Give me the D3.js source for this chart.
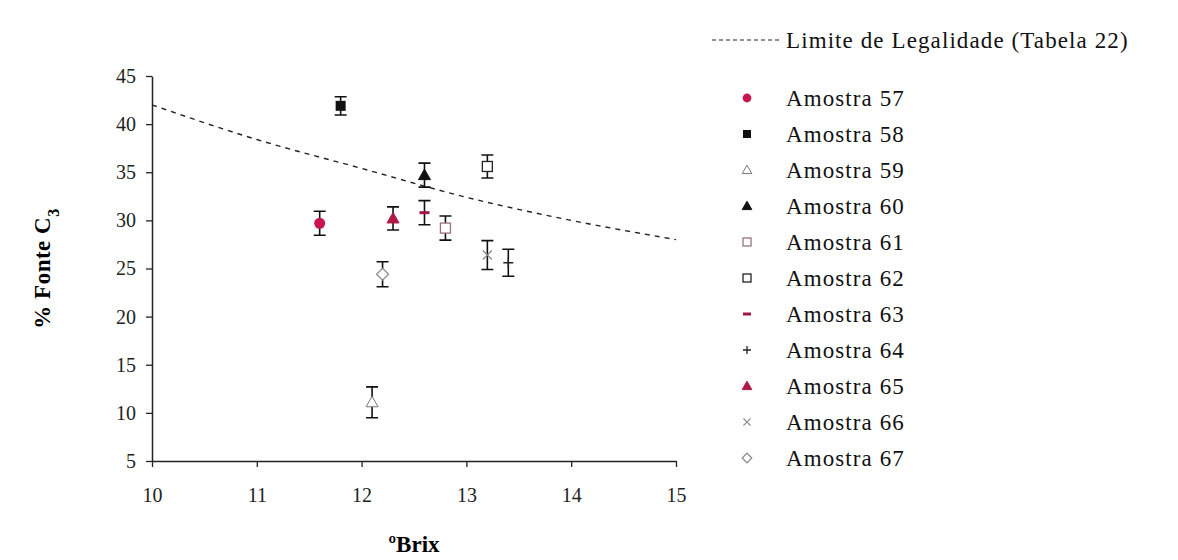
<!DOCTYPE html>
<html>
<head>
<meta charset="utf-8">
<script src="https://cdnjs.cloudflare.com/ajax/libs/d3/7.8.5/d3.min.js"></script>
<style>
  body { margin: 0; background: #fff; }
  svg { font-family: "Liberation Serif", "Times New Roman", serif; }
</style>
</head>
<body>
<div id="chart"></div>
<script>
// data
var samples = ['Amostra 57','Amostra 58','Amostra 59','Amostra 60','Amostra 61','Amostra 62','Amostra 63','Amostra 64','Amostra 65','Amostra 66','Amostra 67'];
var brix    = [11.6, 11.8, 12.1, 12.6, 12.8, 13.2, 12.6, 13.4, 12.3, 13.2, 12.2];
var fonteC3 = [29.7, 41.9, 11.1, 34.7, 29.2, 35.6, 30.8, 25.6, 30.2, 26.4, 24.4];
var erro    = [1.25, 0.95, 1.6, 1.25, 1.25, 1.2, 1.25, 1.4, 1.2, 1.5, 1.3];
var shapes  = ['circle','square','triangleOpen','triangle','squareOpen','squareOpen','dash','plus','triangle','cross','diamond'];
var colors  = ['#c8164c','#111','#777','#111','#9a7080','#222','#a01840','#222','#b01845','#888','#888'];

var limiteX = [10, 11, 12, 13, 14, 15];
var limiteY = [42.0, 38.4, 35.4, 32.4, 30.0, 28.0];

var xTicks = [10, 11, 12, 13, 14, 15];
var yTicks = [5, 10, 15, 20, 25, 30, 35, 40, 45];

var width = 1178, height = 560;

var svg = d3.select('#chart').append('svg')
    .attr('width', width)
    .attr('height', height);

var x = d3.scaleLinear().domain([10, 15]).range([152, 676]);
var y = d3.scaleLinear().domain([5, 45]).range([461, 76]);

// axes
var xAxis = svg.append('g')
    .attr('transform', 'translate(0,' + y(5) + ')')
    .call(d3.axisBottom(x).tickValues(xTicks).tickFormat(d3.format('d'))
        .tickSize(6).tickPadding(21).tickSizeOuter(0));
var yAxis = svg.append('g')
    .attr('transform', 'translate(' + x(10) + ',0)')
    .call(d3.axisLeft(y).tickValues(yTicks).tickFormat(d3.format('d'))
        .tickSize(6).tickPadding(10).tickSizeOuter(0));

[xAxis, yAxis].forEach(function(a) {
    a.select('.domain').attr('stroke', '#222').attr('stroke-width', 1.5);
    a.selectAll('.tick line').attr('stroke', '#222').attr('stroke-width', 1.3);
    a.selectAll('.tick text')
        .attr('font-family', '"Liberation Serif", serif')
        .style('font-size', '20px')
        .attr('fill', '#222');
});

// axis titles
svg.append('text')
    .attr('x', (x(10) + x(15)) / 2)
    .attr('y', 552)
    .attr('text-anchor', 'middle')
    .attr('font-weight', 'bold')
    .style('font-size', '23px')
    .text('ºBrix');

var yt = svg.append('text')
    .attr('transform', 'translate(50,' + ((y(5) + y(45)) / 2) + ') rotate(-90)')
    .attr('text-anchor', 'middle')
    .attr('font-weight', 'bold')
    .style('font-size', '23px')
    .style('letter-spacing', '0.5px');
yt.append('tspan').text('% Fonte C');
yt.append('tspan').attr('baseline-shift', 'sub').style('font-size', '16px').text('3');

// limit line
var line = d3.line()
    .x(function(d, i) { return x(limiteX[i]); })
    .y(function(d) { return y(d); })
    .curve(d3.curveMonotoneX);

svg.append('path')
    .datum(limiteY)
    .attr('d', line)
    .attr('fill', 'none')
    .attr('stroke', '#222')
    .attr('stroke-width', 1.4)
    .attr('stroke-dasharray', '5,5');

// marker drawing
function drawMarker(g, shape, color, s) {
    if (shape == 'circle') {
        g.append('circle').attr('r', s * 0.55).attr('fill', color);
    } else if (shape == 'square') {
        g.append('rect').attr('x', -s / 2).attr('y', -s / 2).attr('width', s).attr('height', s).attr('fill', color);
    } else if (shape == 'squareOpen') {
        g.append('rect').attr('x', -s / 2).attr('y', -s / 2).attr('width', s).attr('height', s)
            .attr('fill', '#fff').attr('stroke', color).attr('stroke-width', 1.3);
    } else if (shape == 'triangle' || shape == 'triangleOpen') {
        var h = s * 0.6;
        g.append('path').attr('d', 'M0,' + (-h) + 'L' + h + ',' + h * 0.75 + 'L' + (-h) + ',' + h * 0.75 + 'Z')
            .attr('fill', shape == 'triangle' ? color : '#fff')
            .attr('stroke', color).attr('stroke-width', 1);
    } else if (shape == 'dash') {
        g.append('line').attr('x1', -s / 2).attr('x2', s / 2).attr('stroke', color).attr('stroke-width', 3);
    } else if (shape == 'plus') {
        g.append('path').attr('d', 'M' + (-s / 2) + ',0H' + (s / 2) + 'M0,' + (-s / 2) + 'V' + (s / 2))
            .attr('stroke', color).attr('stroke-width', 1.3);
    } else if (shape == 'cross') {
        var c = s * 0.45;
        g.append('path').attr('d', 'M' + (-c) + ',' + (-c) + 'L' + c + ',' + c + 'M' + (-c) + ',' + c + 'L' + c + ',' + (-c))
            .attr('stroke', color).attr('stroke-width', 1.2);
    } else if (shape == 'diamond') {
        var dd = s * 0.6;
        g.append('path').attr('d', 'M0,' + (-dd) + 'L' + dd + ',0L0,' + dd + 'L' + (-dd) + ',0Z')
            .attr('fill', '#fff').attr('stroke', color).attr('stroke-width', 1.2);
    }
}

// points with error bars
var pts = svg.selectAll('.pt')
    .data(samples)
  .enter().append('g')
    .attr('class', 'pt');

pts.append('path')
    .attr('d', function(d, i) {
        var cx = x(brix[i]), y0 = y(fonteC3[i] - erro[i]), y1 = y(fonteC3[i] + erro[i]);
        return 'M' + cx + ',' + y0 + 'V' + y1 +
            'M' + (cx - 6) + ',' + y0 + 'H' + (cx + 6) +
            'M' + (cx - 6) + ',' + y1 + 'H' + (cx + 6);
    })
    .attr('fill', 'none')
    .attr('stroke', '#111')
    .attr('stroke-width', 1.6);

pts.each(function(d, i) {
    var g = d3.select(this).append('g')
        .attr('transform', 'translate(' + x(brix[i]) + ',' + y(fonteC3[i]) + ')');
    drawMarker(g, shapes[i], colors[i], 10);
});

// legend
var legend = svg.append('g');
legend.append('line')
    .attr('x1', 712).attr('x2', 782)
    .attr('y1', 40).attr('y2', 40)
    .attr('stroke', '#222')
    .attr('stroke-width', 1.2)
    .attr('stroke-dasharray', '4,3');
legend.append('text')
    .attr('x', 786).attr('y', 40).attr('dy', '.35em')
    .style('font-size', '23px')
    .style('letter-spacing', '1.1px')
    .attr('fill', '#111')
    .text('Limite de Legalidade (Tabela 22)');

var item = legend.selectAll('.item')
    .data(samples)
  .enter().append('g')
    .attr('class', 'item')
    .attr('transform', function(d, i) { return 'translate(0,' + (98 + i * 36) + ')'; });

item.each(function(d, i) {
    var g = d3.select(this).append('g').attr('transform', 'translate(747,0)');
    drawMarker(g, shapes[i], colors[i], 8);
});

item.append('text')
    .attr('x', 786)
    .attr('dy', '.35em')
    .style('font-size', '23px')
    .style('letter-spacing', '1.1px')
    .attr('fill', '#111')
    .text(function(d) { return d; });
</script>
</body>
</html>
